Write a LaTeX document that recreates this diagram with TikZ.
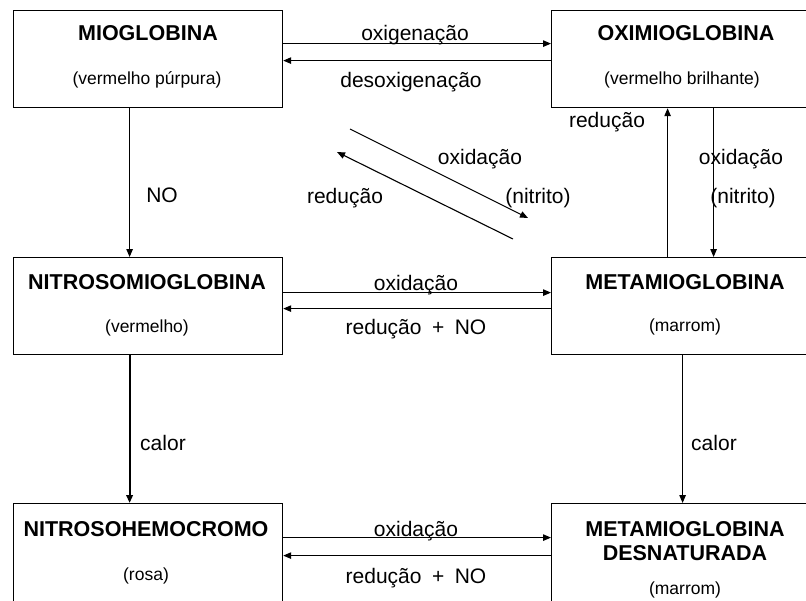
\documentclass[tikz,border=0pt]{standalone}
\usepackage{fontspec}
\setmainfont{Liberation Sans}
\usetikzlibrary{arrows.meta}
\begin{document}
\begin{tikzpicture}[x=1pt,y=-1pt,
  box/.style={draw, line width=1.2pt, minimum height=97pt, inner sep=0pt, anchor=north west},
  ttl/.style={font=\bfseries\fontsize{21.5}{24}\selectfont, inner sep=0pt},
  sub/.style={font=\fontsize{17.5}{20}\selectfont, inner sep=0pt},
  lbl/.style={font=\fontsize{21}{24}\selectfont, inner sep=0pt},
  arr/.style={line width=1.1pt, -{Triangle[length=8pt,width=6.5pt]}},
]
\useasboundingbox (0,0) rectangle (806,600);
% boxes
\node[box, minimum width=269pt] (mio) at (13,10) {};
\node[box, minimum width=270pt] (oxi) at (551,10) {};
\node[box, minimum width=269pt] (nit) at (13,257) {};
\node[box, minimum width=270pt] (meta) at (551,257) {};
\node[box, minimum width=269pt, minimum height=100pt] (nhc) at (13,503) {};
\node[box, minimum width=270pt, minimum height=100pt] (mdn) at (551,503) {};
% box texts
\node[ttl] (t1) at (148,33) {MIOGLOBINA};
\node[sub] (s1) at (147,80) {(vermelho púrpura)};
\node[ttl] (t2) at (686,33) {OXIMIOGLOBINA};
\node[sub] (s2) at (682,80) {(vermelho brilhante)};
\node[ttl] (t3) at (147,282) {NITROSOMIOGLOBINA};
\node[sub] (s3) at (147,328) {(vermelho)};
\node[ttl] (t4) at (685,282) {METAMIOGLOBINA};
\node[sub] (s4) at (685,327) {(marrom)};
\node[ttl] (t5) at (146,529) {NITROSOHEMOCROMO};
\node[sub] (s5) at (146,576) {(rosa)};
\node[ttl, align=center] (t6) at (685,541) {METAMIOGLOBINA\\DESNATURADA};
\node[sub] (s6) at (685,590) {(marrom)};
% connectors
\draw[arr] ([yshift=15.5pt]mio.east) -- ([yshift=15.5pt]oxi.west);
\draw[arr] ([yshift=-1.5pt]oxi.west) -- ([yshift=-1.5pt]mio.east);
\draw[arr] ([xshift=-18.5pt]mio.south) -- ([xshift=-18.5pt]nit.north);
\draw[arr] ([xshift=-19pt]meta.north) -- ([xshift=-19pt]oxi.south);
\draw[arr] ([xshift=27pt]oxi.south) -- ([xshift=27pt]meta.north);
\draw[arr] ([yshift=13.5pt]nit.east) -- ([yshift=13.5pt]meta.west);
\draw[arr] ([yshift=-2.5pt]meta.west) -- ([yshift=-2.5pt]nit.east);
\draw[arr, line width=2.2pt] ([xshift=-18.5pt]nit.south) -- ([xshift=-18.5pt]nhc.north);
\draw[arr] ([xshift=-4pt]meta.south) -- ([xshift=-4pt]mdn.north);
\draw[arr] ([yshift=16pt]nhc.east) -- ([yshift=16pt]mdn.west);
\draw[arr] ([yshift=-2pt]mdn.west) -- ([yshift=-2pt]nhc.east);
% diagonal pair
\coordinate (d1s) at (350,129);
\coordinate (d1e) at (528,218);
\coordinate (d2s) at (513,239);
\coordinate (d2e) at (337,152);
\draw[arr] (d1s) -- (d1e);
\draw[arr] (d2s) -- (d2e);
% labels
\node[lbl, anchor=base] (l1) at (415,40) {oxigenação};
\node[lbl, anchor=base] (l2) at (411,87) {desoxigenação};
\node[lbl] (l3) at (162,195) {NO};
\node[lbl] (l4) at (607,122) {redução};
\node[lbl] (l5) at (741,159) {oxidação};
\node[lbl] (l6) at (743,198) {(nitrito)};
\node[lbl] (l7) at (480,159) {oxidação};
\node[lbl] (l8) at (538,198) {(nitrito)};
\node[lbl] (l9) at (345,198) {redução};
\node[lbl, anchor=base] (l10) at (416,290) {oxidação};
\node[lbl, anchor=base] (l11) at (416,334) {redução\hspace{0.5em}+\hspace{0.5em}NO};
\node[lbl] (l12) at (163,443) {calor};
\node[lbl] (l13) at (714,443) {calor};
\node[lbl, anchor=base] (l14) at (416,536) {oxidação};
\node[lbl, anchor=base] (l15) at (416,583) {redução\hspace{0.5em}+\hspace{0.5em}NO};
\end{tikzpicture}
\end{document}
